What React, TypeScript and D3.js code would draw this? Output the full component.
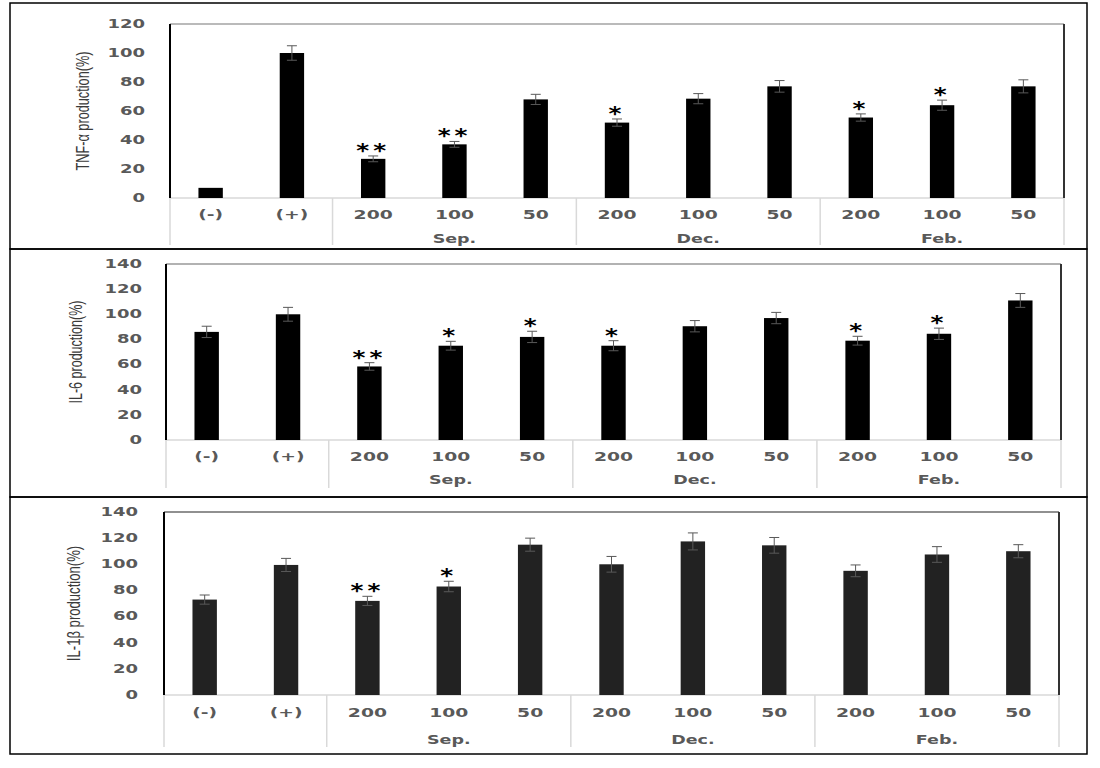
import React from "react";
import * as d3 from "d3";

const categories = ["(-)", "(+)", "200", "100", "50", "200", "100", "50", "200", "100", "50"];
const groupLabels = ["Sep.", "Dec.", "Feb."];
const groupSpans: [number, number][] = [[2, 5], [5, 8], [8, 11]];

const tnfValues = [7, 100, 27, 37, 68, 52, 68.5, 77, 55.5, 64, 77];
const tnfErrors = [0, 5, 2, 2, 3.5, 2.5, 3.5, 4, 2.5, 3.5, 4.5];
const tnfStars = ["", "", "**", "**", "", "*", "", "", "*", "*", ""];
const tnfTicks = [0, 20, 40, 60, 80, 100, 120];

const il6Values = [86, 100, 58.5, 75, 82, 75, 90.5, 97, 79, 84.5, 111];
const il6Errors = [4.5, 5.5, 3, 3.5, 4.5, 4, 4.5, 4.5, 3.5, 4.5, 5.5];
const il6Stars = ["", "", "**", "*", "*", "*", "", "", "*", "*", ""];
const il6Ticks = [0, 20, 40, 60, 80, 100, 120, 140];

const il1bValues = [73, 99.5, 72, 83, 115, 100, 117.5, 114.5, 95, 107.5, 110];
const il1bErrors = [3.5, 5, 3.5, 4, 5, 6, 6.5, 6, 4.5, 6, 5];
const il1bStars = ["", "", "**", "*", "", "", "", "", "", "", ""];
const il1bTicks = [0, 20, 40, 60, 80, 100, 120, 140];

const titles = ["TNF-α production(%)", "IL-6 production(%)", "IL-1β production(%)"];

type Layout = {
  frameTop: number; frameBottom: number;
  left: number; right: number; top: number; base: number;
  tickRight: number; titleX: number; titleScale: number;
  catY: number; groupY: number; sepBottom: number; barColor: string; topColor: string;
};

const layouts: Layout[] = [
  { frameTop: 3, frameBottom: 249, left: 170, right: 1064, top: 24, base: 198, tickRight: 145, titleX: 82, titleScale: 0.67, catY: 215, groupY: 239, sepBottom: 245, barColor: "#000", topColor: "#777" },
  { frameTop: 249, frameBottom: 497, left: 166, right: 1061, top: 264, base: 440, tickRight: 142, titleX: 75, titleScale: 0.66, catY: 457, groupY: 480, sepBottom: 488, barColor: "#000", topColor: "#666" },
  { frameTop: 497, frameBottom: 754, left: 164, right: 1059, top: 512, base: 695, tickRight: 138, titleX: 73, titleScale: 0.69, catY: 713, groupY: 740, sepBottom: 747, barColor: "#222", topColor: "#222" },
];

const series = [
  { values: tnfValues, errors: tnfErrors, stars: tnfStars, ticks: tnfTicks, title: titles[0] },
  { values: il6Values, errors: il6Errors, stars: il6Stars, ticks: il6Ticks, title: titles[1] },
  { values: il1bValues, errors: il1bErrors, stars: il1bStars, ticks: il1bTicks, title: titles[2] },
];

const LABEL_FONT = "'DejaVu Sans', Verdana, sans-serif";

function Panel({ s, L }: { s: typeof series[0]; L: Layout }) {
  const idx = categories.map((_, i) => String(i));
  const x = d3.scaleBand<string>().domain(idx).range([L.left, L.right]).padding(0);
  const yMax = s.ticks[s.ticks.length - 1];
  const y = d3.scaleLinear().domain([0, yMax]).range([L.base, L.top]);
  const bw = x.bandwidth() * 0.3;
  const seps = [0, ...groupSpans.map((g) => g[0]), categories.length];
  const sepX = (i: number) => (i >= categories.length ? L.right : (x(String(i)) as number));
  const titleY = (L.top + L.base) / 2;
  return (
    <g>
      <rect x={10} y={L.frameTop} width={1077} height={L.frameBottom - L.frameTop} fill="none" stroke="#000" strokeWidth={1.5} />
      <line x1={L.left} x2={L.right} y1={L.base} y2={L.base} stroke="#d9d9d9" strokeWidth={1.5} />
      {seps.map((i) => (
        <line key={"s" + i} x1={sepX(i)} x2={sepX(i)} y1={L.base} y2={L.sepBottom} stroke="#d9d9d9" strokeWidth={1.5} />
      ))}
      <line x1={L.left} x2={L.right} y1={L.top} y2={L.top} stroke={L.topColor} strokeWidth={1.2} />
      <line x1={L.left} x2={L.left} y1={L.top} y2={L.base} stroke="#000" strokeWidth={2} />
      <line x1={L.right} x2={L.right} y1={L.top} y2={L.base} stroke="#333" strokeWidth={2} />
      {s.ticks.map((t) => (
        <g key={"t" + t} transform={`translate(${L.tickRight},${y(t)}) scale(1.5,1)`}>
          <text textAnchor="end" dominantBaseline="central" fontFamily={LABEL_FONT} fontWeight="bold" fontSize={12} fill="#595959">{t}</text>
        </g>
      ))}
      <g transform={`translate(${L.titleX},${titleY}) rotate(-90) scale(${L.titleScale},1)`}>
        <text textAnchor="middle" dominantBaseline="central"
          fontFamily="'Liberation Sans', Arial, sans-serif" fontSize={19} fill="#3a3a3a">{s.title}</text>
      </g>
      {s.values.map((v, i) => {
        const cx = (x(String(i)) as number) + x.bandwidth() / 2;
        const e = s.errors[i];
        return (
          <g key={"b" + i}>
            <rect x={cx - bw / 2} y={y(v)} width={bw} height={L.base - y(v)} fill={L.barColor} />
            {e > 0 && (
              <g stroke="#595959" strokeWidth={1}>
                <line x1={cx} x2={cx} y1={y(v + e)} y2={y(v - e)} />
                <line x1={cx - 5} x2={cx + 5} y1={y(v + e)} y2={y(v + e)} />
                <line x1={cx - 5} x2={cx + 5} y1={y(v - e)} y2={y(v - e)} />
              </g>
            )}
            {s.stars[i] && (
              <g transform={`translate(${cx},${y(v + e) + 1}) scale(1.3,1)`}>
                <text textAnchor="middle" fontFamily={LABEL_FONT} fontWeight="bold" fontSize={19} letterSpacing={3} fill="#000">{s.stars[i]}</text>
              </g>
            )}
          </g>
        );
      })}
      {categories.map((c, i) => (
        <g key={"c" + i} transform={`translate(${(x(String(i)) as number) + x.bandwidth() / 2},${L.catY}) scale(1.5,1)`}>
          <text textAnchor="middle" dominantBaseline="central" fontFamily={LABEL_FONT} fontWeight="bold" fontSize={12.5} fill="#595959">{c}</text>
        </g>
      ))}
      {groupLabels.map((g, k) => {
        const [a, b] = groupSpans[k];
        const gx = ((x(String(a)) as number) + sepX(b)) / 2;
        return (
          <g key={"g" + k} transform={`translate(${gx},${L.groupY}) scale(1.4,1)`}>
            <text textAnchor="middle" dominantBaseline="central" fontFamily={LABEL_FONT} fontWeight="bold" fontSize={12.5} fill="#595959">{g}</text>
          </g>
        );
      })}
    </g>
  );
}

export default function App() {
  return (
    <svg width={1100} height={768} style={{ position: "absolute", left: 0, top: 0, background: "#fff" }}>
      <rect x={0} y={0} width={1100} height={768} fill="#fff" />
      {series.map((s, k) => (
        <Panel key={k} s={s} L={layouts[k]} />
      ))}
    </svg>
  );
}
